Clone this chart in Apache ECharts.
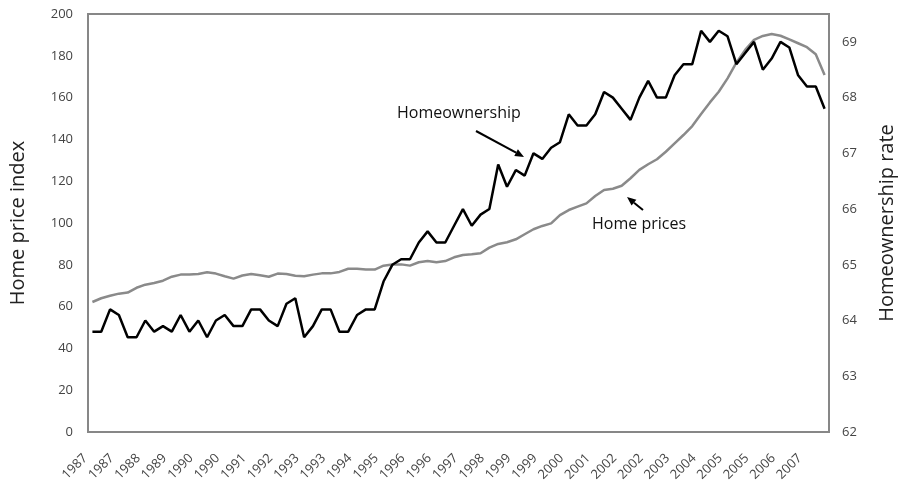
<!DOCTYPE html>
<html><head><meta charset="utf-8">
<script src="https://cdn.jsdelivr.net/npm/echarts@6/dist/echarts.min.js"></script>
<style>html,body{margin:0;padding:0;background:#fff}#c{width:898px;height:480px}</style>
</head><body><div id="c"></div>
<script>
const years = [1987,1988,1989,1990,1991,1992,1993,1994,1995,1996,1997,1998,1999,2000,2001,2002,2003,2004,2005,2006,2007];
const quarters = ['Q1','Q2','Q3','Q4'];
const categories = years.flatMap(y => quarters.map(q => y + ' ' + q));

// Home price index (left axis), quarterly 1987Q1-2007Q4
const homePrices = [
  62.2,64.0,65.2,66.2, 66.7,69.0,70.5,71.3, 72.4,74.3,75.3,75.4, 75.6,76.4,75.8,74.5,
  73.4,74.9,75.6,75.0, 74.3,75.8,75.6,74.8, 74.5,75.3,75.9,75.9, 76.6,78.1,78.1,77.7,
  77.7,79.6,80.1,80.2, 79.6,81.2,81.8,81.2, 81.8,83.6,84.7,85.0, 85.5,88.2,90.0,90.8,
  92.2,94.6,97.0,98.6, 99.8,103.8,106.2,107.8, 109.4,112.9,115.8,116.4, 117.8,121.4,125.4,128.1,
  130.5,134.1,138.1,142.1, 146.4,152.2,157.7,162.8, 169.2,176.7,182.8,187.6, 189.5,190.4,189.6,187.9,
  186.0,184.1,180.7,170.8
];
// Homeownership rate, % (right axis)
const homeownership = [
  63.8,63.8,64.2,64.1, 63.7,63.7,64.0,63.8, 63.9,63.8,64.1,63.8, 64.0,63.7,64.0,64.1,
  63.9,63.9,64.2,64.2, 64.0,63.9,64.3,64.4, 63.7,63.9,64.2,64.2, 63.8,63.8,64.1,64.2,
  64.2,64.7,65.0,65.1, 65.1,65.4,65.6,65.4, 65.4,65.7,66.0,65.7, 65.9,66.0,66.8,66.4,
  66.7,66.6,67.0,66.9, 67.1,67.2,67.7,67.5, 67.5,67.7,68.1,68.0, 67.8,67.6,68.0,68.3,
  68.0,68.0,68.4,68.6, 68.6,69.2,69.0,69.2, 69.1,68.6,68.8,69.0, 68.5,68.7,69.0,68.9,
  68.4,68.2,68.2,67.8
];
const leftTicks = [0,20,40,60,80,100,120,140,160,180,200];
const rightTicks = [62,63,64,65,66,67,68,69];
const rightMax = 69.5;

const FONT = '"Open Sans", sans-serif';

function arrow(x1, y1, x2, y2) {
  const dx = x2 - x1, dy = y2 - y1, len = Math.hypot(dx, dy);
  const ux = dx / len, uy = dy / len, hl = 9, hw = 3.8;
  const bx = x2 - ux * hl, by = y2 - uy * hl;
  const px = -uy * hw, py = ux * hw;
  return [
    { type: 'line', shape: { x1, y1, x2: bx, y2: by }, style: { stroke: '#000', lineWidth: 2 } },
    { type: 'polygon', shape: { points: [[x2, y2], [bx + px, by + py], [bx - px, by - py]] }, style: { fill: '#000' } }
  ];
}

const chart = echarts.init(document.getElementById('c'), null, { renderer: 'canvas' });
chart.setOption({
  animation: false,
  backgroundColor: '#fff',
  grid: { left: 88, right: 69, top: 14, bottom: 48, show: true, borderColor: '#878787', borderWidth: 2,
    backgroundColor: 'transparent', containLabel: false, outerBoundsMode: 'none' },
  xAxis: {
    type: 'category', data: categories, boundaryGap: true,
    axisLine: { show: false }, axisTick: { show: false },
    axisLabel: {
      interval: 2, rotate: 45, margin: 17, fontSize: 13, color: '#444', fontFamily: FONT,
      padding: [0, 10, 0, 0],
      formatter: v => v.split(' ')[0]
    },
    splitLine: { show: false }
  },
  yAxis: [
    {
      type: 'value', position: 'left', min: leftTicks[0], max: leftTicks[leftTicks.length - 1], interval: 20,
      name: 'Home price index', nameLocation: 'middle', nameRotate: 90, nameGap: 60,
      nameTextStyle: { fontSize: 20, color: '#222', fontFamily: FONT },
      axisLine: { show: false }, axisTick: { show: false }, splitLine: { show: false },
      axisLabel: { fontSize: 13, color: '#444', fontFamily: FONT, margin: 15 }
    },
    {
      type: 'value', position: 'right', min: rightTicks[0], max: rightMax, interval: 1,
      name: 'Homeownership rate', nameLocation: 'middle', nameRotate: 90, nameGap: 48,
      nameTextStyle: { fontSize: 20, color: '#222', fontFamily: FONT },
      axisLine: { show: false }, axisTick: { show: false }, splitLine: { show: false },
      axisLabel: { fontSize: 13, color: '#444', fontFamily: FONT, margin: 13, showMaxLabel: false,
        formatter: v => rightTicks.includes(v) ? String(v) : '' }
    }
  ],
  series: [
    { name: 'Home prices', type: 'line', yAxisIndex: 0, data: homePrices, showSymbol: false, symbol: 'none',
      lineStyle: { color: '#8a8a8a', width: 2.5 }, z: 2 },
    { name: 'Homeownership', type: 'line', yAxisIndex: 1, data: homeownership, showSymbol: false, symbol: 'none',
      lineStyle: { color: '#000', width: 2.5 }, z: 3 }
  ],
  graphic: [
    { type: 'text', left: 397, top: 105, style: { text: 'Homeownership', font: '16px ' + FONT, fill: '#111' } },
    { type: 'text', left: 592, top: 216, style: { text: 'Home prices', font: '16px ' + FONT, fill: '#111' } },
    ...arrow(476, 131, 524, 157),
    ...arrow(643, 210, 627, 197)
  ]
});
</script></body></html>
